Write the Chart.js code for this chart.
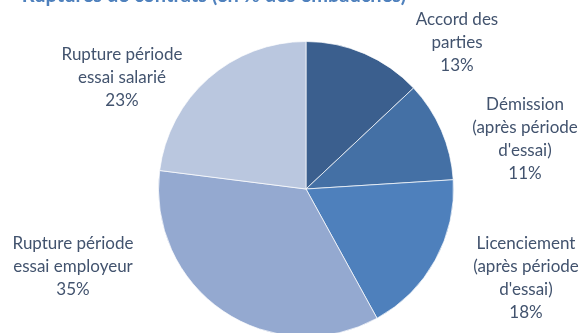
<!DOCTYPE html>
<html lang="fr">
<head>
  <meta charset="UTF-8" />
  <title>Ruptures de contrats</title>
  <script src="https://cdn.jsdelivr.net/npm/chart.js"></script>
  <style>
    body {
      margin: 0;
      padding: 0;
      background-color: #ffffff;
      overflow: hidden;
    }

    .wrap {
      position: relative;
      width: 583px;
      height: 333px;
      overflow: hidden;
    }

    canvas {
      display: block;
    }
  </style>
</head>
<body>
  <div class="wrap">
    <canvas id="ruptures" width="583" height="345"></canvas>
  </div>

  <script>
    const TITLE = "Ruptures de contrats (en % des embauches)";

    // label lines per slice, last line is the percentage
    const categories = [
      ["Accord des", "parties"],
      ["Démission", "(après période", "d'essai)"],
      ["Licenciement", "(après période", "d'essai)"],
      ["Rupture période", "essai employeur"],
      ["Rupture période", "essai salarié"]
    ];
    const shares = [13, 11, 18, 35, 23];
    const colors = ["#3B5F8E", "#4470A5", "#4E80BC", "#94A9D0", "#BAC7DF"];

    // label block centres, relative to the pie centre
    const labelOffsets = [[151, -146], [219, -50], [220, 89], [-233, 78], [-184, -111]];

    const textColor = "#42536E";
    const labelFont = "17px Lato";
    const lineHeight = 23;

    const pieLabels = {
      id: 'pieLabels',
      afterDraw(chart) {
        const ctx = chart.ctx;
        const arc = chart.getDatasetMeta(0).data[0];
        const cx = arc.x, cy = arc.y;
        ctx.save();
        ctx.fillStyle = textColor;
        ctx.font = labelFont;
        ctx.textAlign = 'center';
        ctx.textBaseline = 'middle';
        categories.forEach((lines, i) => {
          const all = lines.concat([shares[i] + '%']);
          const x = cx + labelOffsets[i][0];
          const y0 = cy + labelOffsets[i][1] - (all.length - 1) * lineHeight / 2;
          all.forEach((t, k) => ctx.fillText(t, x, y0 + k * lineHeight));
        });

        // title sits mostly above the visible area
        ctx.fillStyle = '#4F81BD';
        ctx.font = 'bold 20px Lato';
        ctx.textBaseline = 'alphabetic';
        ctx.fillText(TITLE, 214, 2);
        ctx.restore();
      }
    };

    new Chart(document.getElementById('ruptures'), {
      type: 'pie',
      data: {
        labels: categories.map(l => l.join(' ')),
        datasets: [{
          data: shares,
          backgroundColor: colors,
          borderColor: 'rgba(255,255,255,0.7)',
          borderWidth: 1
        }]
      },
      options: {
        responsive: false,
        animation: false,
        layout: {
          padding: { top: 41, bottom: 8, left: 100, right: 71 }
        },
        plugins: {
          legend: { display: false },
          tooltip: { enabled: false }
        }
      },
      plugins: [pieLabels]
    });
  </script>
</body>
</html>
